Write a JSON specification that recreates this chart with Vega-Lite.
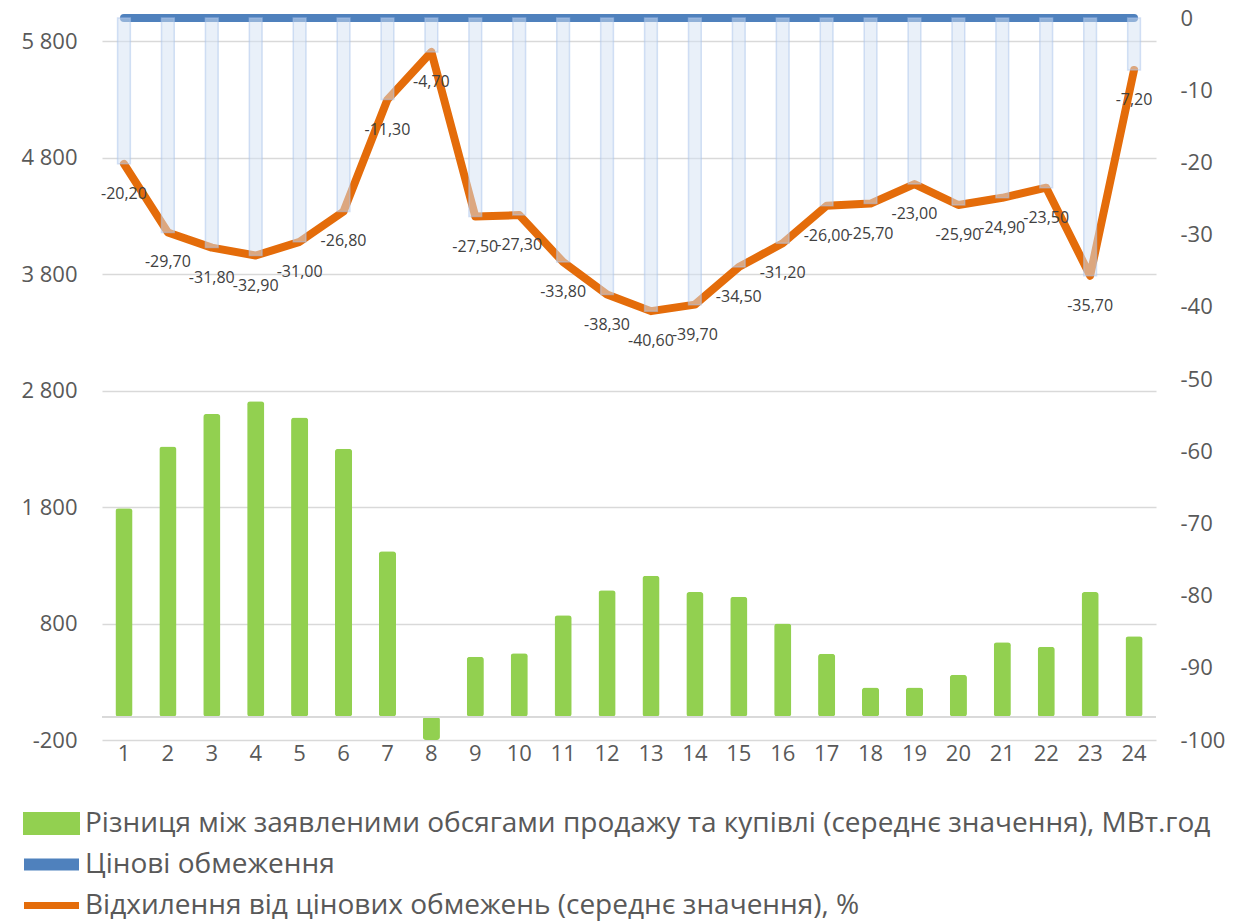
{
  "$schema": "https://vega.github.io/schema/vega-lite/v6.json",
  "autosize": {"type": "none"},
  "width": 1054,
  "height": 722,
  "padding": {"left": 102, "top": 18, "right": 78, "bottom": 182},
  "background": "white",
  "config": {
    "locale": {"number": {"decimal": ",", "thousands": " ", "grouping": [3], "currency": ["", ""], "minus": "-"}},
    "view": {"stroke": null},
    "font": "Open Sans"
  },
  "data": {"values": [
    {"hour": 1, "diff": 1790, "dev": -20.2, "limit": 0},
    {"hour": 2, "diff": 2320, "dev": -29.7, "limit": 0},
    {"hour": 3, "diff": 2600, "dev": -31.8, "limit": 0},
    {"hour": 4, "diff": 2710, "dev": -32.9, "limit": 0},
    {"hour": 5, "diff": 2570, "dev": -31.0, "limit": 0},
    {"hour": 6, "diff": 2300, "dev": -26.8, "limit": 0},
    {"hour": 7, "diff": 1420, "dev": -11.3, "limit": 0},
    {"hour": 8, "diff": -200, "dev": -4.7, "limit": 0},
    {"hour": 9, "diff": 515, "dev": -27.5, "limit": 0},
    {"hour": 10, "diff": 544, "dev": -27.3, "limit": 0},
    {"hour": 11, "diff": 871, "dev": -33.8, "limit": 0},
    {"hour": 12, "diff": 1085, "dev": -38.3, "limit": 0},
    {"hour": 13, "diff": 1211, "dev": -40.6, "limit": 0},
    {"hour": 14, "diff": 1070, "dev": -39.7, "limit": 0},
    {"hour": 15, "diff": 1030, "dev": -34.5, "limit": 0},
    {"hour": 16, "diff": 800, "dev": -31.2, "limit": 0},
    {"hour": 17, "diff": 540, "dev": -26.0, "limit": 0},
    {"hour": 18, "diff": 250, "dev": -25.7, "limit": 0},
    {"hour": 19, "diff": 250, "dev": -23.0, "limit": 0},
    {"hour": 20, "diff": 360, "dev": -25.9, "limit": 0},
    {"hour": 21, "diff": 640, "dev": -24.9, "limit": 0},
    {"hour": 22, "diff": 600, "dev": -23.5, "limit": 0},
    {"hour": 23, "diff": 1070, "dev": -35.7, "limit": 0},
    {"hour": 24, "diff": 690, "dev": -7.2, "limit": 0}
  ]},
  "layer": [
    {
      "layer": [
        {
          "mark": {"type": "bar", "width": {"band": 0.39}, "cornerRadius": 3},
          "encoding": {
            "x": {"field": "hour", "type": "ordinal", "scale": {"paddingInner": 0, "paddingOuter": 0},
                  "axis": {"title": null, "labelAngle": 0, "domain": false, "ticks": false, "labelFontSize": 22, "labelColor": "#595959", "labelPadding": 3}},
            "y": {"field": "diff", "type": "quantitative",
                  "scale": {"domain": [-200, 6000], "nice": false, "zero": false},
                  "axis": {"orient": "left", "title": null, "values": [-200, 800, 1800, 2800, 3800, 4800, 5800], "format": ",d",
                           "domain": false, "ticks": false, "labelPadding": 25, "labelFontSize": 22, "labelColor": "#595959",
                           "grid": true, "gridColor": "#D9D9D9", "gridWidth": 1.5}},
            "color": {"datum": "Різниця між заявленими обсягами продажу та купівлі (середнє значення), МВт.год",
                      "scale": {"range": ["#92D050"]},
                      "legend": {"orient": "none", "legendX": -79, "legendY": 777, "title": null, "padding": 0,
                                 "symbolType": "M-1,-0.4H1V0.4H-1Z", "symbolSize": 3249, "symbolStrokeWidth": 0,
                                 "labelFontSize": 28, "labelColor": "#595959", "labelOffset": 5, "labelLimit": 0}}
          }
        },
        {
          "mark": {"type": "rule", "color": "#D9D9D9", "strokeWidth": 1.5},
          "encoding": {"y": {"datum": 0, "type": "quantitative"}}
        }
      ]
    },
    {
      "layer": [
        {
          "mark": {"type": "line", "strokeWidth": 8, "strokeCap": "round"},
          "encoding": {
            "x": {"field": "hour", "type": "ordinal"},
            "y": {"field": "limit", "type": "quantitative",
                  "scale": {"domain": [-100, 0], "nice": false, "zero": false},
                  "axis": {"orient": "right", "title": null, "values": [-100, -90, -80, -70, -60, -50, -40, -30, -20, -10, 0], "format": "d",
                           "domain": false, "ticks": false, "grid": false, "labelPadding": 24, "labelFontSize": 22, "labelColor": "#595959"}},
            "color": {"datum": "Цінові обмеження", "scale": {"range": ["#4F81BD"]},
                      "legend": {"orient": "none", "legendX": -84, "legendY": 813, "title": null, "padding": 0,
                                 "symbolType": "stroke", "symbolSize": 3025, "symbolStrokeWidth": 12,
                                 "labelFontSize": 28, "labelColor": "#595959", "labelOffset": 0, "labelLimit": 0}}
          }
        },
        {
          "mark": {"type": "line", "strokeWidth": 8, "strokeCap": "round", "strokeJoin": "round"},
          "encoding": {
            "x": {"field": "hour", "type": "ordinal"},
            "y": {"field": "dev", "type": "quantitative"},
            "color": {"datum": "Відхилення від цінових обмежень (середнє значення), %", "scale": {"range": ["#E46C0A"]},
                      "legend": {"orient": "none", "legendX": -81.5, "legendY": 856.5, "title": null, "padding": 0,
                                 "symbolType": "stroke", "symbolSize": 3025, "symbolStrokeWidth": 7,
                                 "labelFontSize": 28, "labelColor": "#595959", "labelOffset": 2.5, "labelLimit": 0}}
          }
        },
        {
          "mark": {"type": "bar", "width": {"band": 0.29}, "fill": "#D4E1F4", "fillOpacity": 0.5, "stroke": "#A9C4EB", "strokeOpacity": 0.5, "strokeWidth": 1.5},
          "encoding": {
            "x": {"field": "hour", "type": "ordinal"},
            "y": {"field": "dev", "type": "quantitative"},
            "y2": {"datum": 0}
          }
        },
        {
          "mark": {"type": "text", "dy": 30, "fontSize": 16, "color": "#404040"},
          "encoding": {
            "x": {"field": "hour", "type": "ordinal"},
            "y": {"field": "dev", "type": "quantitative"},
            "text": {"field": "dev", "type": "quantitative", "format": ".2f"}
          }
        }
      ],
      "resolve": {"scale": {"color": "independent"}}
    }
  ],
  "resolve": {"scale": {"y": "independent", "color": "independent"}}
}
